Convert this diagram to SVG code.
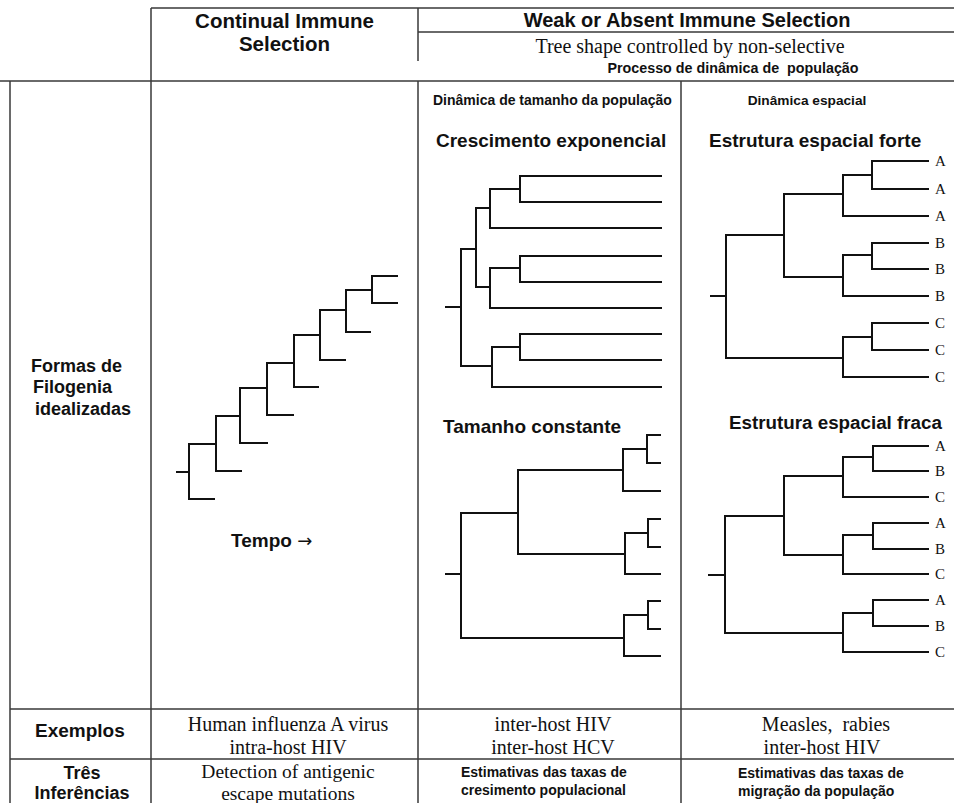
<svg xmlns="http://www.w3.org/2000/svg" width="954" height="803" viewBox="0 0 954 803">
<style>
.grid{stroke:#3a3a3a;stroke-width:1.5;fill:none}
.tree{stroke:#111;stroke-width:2;fill:none}
.hb{font-family:"Liberation Sans",Arial,sans-serif;font-weight:bold;fill:#111}
.sr{font-family:"Liberation Serif","Times New Roman",serif;fill:#111}
.lab{font-family:"Liberation Serif","Times New Roman",serif;font-size:15px;fill:#111}
</style>
<rect width="954" height="803" fill="#fff"/>
<g id="table" class="grid">
<path d="M151,8 H954 M151,8 V803 M418,8 V61 M418,32 H954 M0,81 H954 M10,81 V803 M418,81 V803 M681,81 V803 M10,709 H954 M10,759 H954"/>
</g>
<g id="headers">
<text class="hb" x="284.5" y="28" font-size="20.5" text-anchor="middle">Continual Immune</text>
<text class="hb" x="284.5" y="51" font-size="20.5" text-anchor="middle">Selection</text>
<text class="hb" x="687" y="27" font-size="20" text-anchor="middle">Weak or Absent Immune Selection</text>
<text class="sr" x="690" y="53" font-size="20" text-anchor="middle">Tree shape controlled by non-selective</text>
<text class="hb" x="733" y="73" font-size="14.3" text-anchor="middle" xml:space="preserve">Processo de dinâmica de  população</text>
<text class="hb" x="433" y="105" font-size="14">Dinâmica de tamanho da população</text>
<text class="hb" x="807" y="105" font-size="13.7" text-anchor="middle">Dinâmica espacial</text>
</g>
<g id="row-labels">
<text class="hb" x="31" y="372" font-size="18">Formas de</text>
<text class="hb" x="33" y="393" font-size="18">Filogenia</text>
<text class="hb" x="35" y="415" font-size="18">idealizadas</text>
<text class="hb" x="35" y="737" font-size="19">Exemplos</text>
<text class="hb" x="82" y="779" font-size="18" text-anchor="middle">Três</text>
<text class="hb" x="82" y="799" font-size="18" text-anchor="middle">Inferências</text>
</g>
<g id="continual-tree">
<path class="tree" d="M176,472 H189 M216,444 H189 V499 H215 M240,416 H216 V471 H242 M267,388 H240 V443 H268 M294,363 H267 V415 H294 M320,335 H294 V387 H319 M346,310 H320 V360 H346 M372,290 H346 V332 H371 M398,276 H372 V303 H398"/>
<text class="hb" x="231" y="547" font-size="19">Tempo <tspan font-family="'DejaVu Sans',sans-serif" font-weight="normal" font-size="18">→</tspan></text>
</g>
<g id="exponential-tree">
<text class="hb" x="436" y="147" font-size="19">Crescimento exponencial</text>
<path class="tree" d="M445,307 H461 M476,249 H461 V366 H492 M490,208 H476 V287 H490 M520,189 H490 V228 H662 M662,176 H520 V202 H662 M520,268 H490 V308 H662 M662,256 H520 V282 H662 M520,347 H492 V387 H662 M662,334 H520 V360 H662"/>
</g>
<g id="constant-tree">
<text class="hb" x="443" y="433" font-size="19">Tamanho constante</text>
<path class="tree" d="M445,574 H461 M518,513 H461 V638 H624 M623,470 H518 V554 H625 M647,449 H623 V491 H661 M661,435 H647 V463 H661 M648,533 H625 V574 H661 M661,519 H648 V547 H661 M648,615 H624 V656 H661 M661,601 H648 V629 H661"/>
</g>
<g id="strong-spatial-tree">
<text class="hb" x="709" y="147" font-size="19">Estrutura espacial forte</text>
<path class="tree" d="M710,296 H726 M784,235 H726 V358 H843 M843,194 H784 V277 H843 M872,175 H843 V216 H929 M929,161 H872 V189 H929 M872,255 H843 V296 H929 M929,243 H872 V269 H929 M872,337 H843 V377 H929 M929,323 H872 V350 H929"/>
<text class="lab" x="935" y="166">A</text>
<text class="lab" x="935" y="194">A</text>
<text class="lab" x="935" y="221">A</text>
<text class="lab" x="935" y="248">B</text>
<text class="lab" x="935" y="274">B</text>
<text class="lab" x="935" y="301">B</text>
<text class="lab" x="935" y="328">C</text>
<text class="lab" x="935" y="355">C</text>
<text class="lab" x="935" y="382">C</text>
</g>
<g id="weak-spatial-tree">
<text class="hb" x="729" y="429" font-size="18.8">Estrutura espacial fraca</text>
<path class="tree" d="M708,575 H725 M784,516 H725 V633 H843 M843,476 H784 V555 H843 M873,457 H843 V497 H929 M929,446 H873 V471 H929 M873,535 H843 V574 H929 M929,523 H873 V549 H929 M873,613 H843 V652 H929 M929,600 H873 V626 H929"/>
<text class="lab" x="935" y="451">A</text>
<text class="lab" x="935" y="476">B</text>
<text class="lab" x="935" y="502">C</text>
<text class="lab" x="935" y="528">A</text>
<text class="lab" x="935" y="554">B</text>
<text class="lab" x="935" y="579">C</text>
<text class="lab" x="935" y="605">A</text>
<text class="lab" x="935" y="631">B</text>
<text class="lab" x="935" y="657">C</text>
</g>
<g id="examples">
<text class="sr" x="288" y="731" font-size="20" text-anchor="middle">Human influenza A virus</text>
<text class="sr" x="288" y="754" font-size="20" text-anchor="middle">intra-host HIV</text>
<text class="sr" x="553" y="731" font-size="20" text-anchor="middle">inter-host HIV</text>
<text class="sr" x="553" y="754" font-size="20" text-anchor="middle">inter-host HCV</text>
<text class="sr" x="826" y="731" font-size="20" text-anchor="middle" xml:space="preserve">Measles,  rabies</text>
<text class="sr" x="822" y="754" font-size="20" text-anchor="middle">inter-host HIV</text>
</g>
<g id="inferences">
<text class="sr" x="288" y="778" font-size="19.5" text-anchor="middle">Detection of antigenic</text>
<text class="sr" x="288" y="800" font-size="19.5" text-anchor="middle">escape mutations</text>
<text class="hb" x="461" y="777" font-size="14">Estimativas das taxas de</text>
<text class="hb" x="461" y="795" font-size="14">cresimento populacional</text>
<text class="hb" x="738" y="778" font-size="14">Estimativas das taxas de</text>
<text class="hb" x="738" y="796" font-size="14">migração da população</text>
</g>
</svg>
